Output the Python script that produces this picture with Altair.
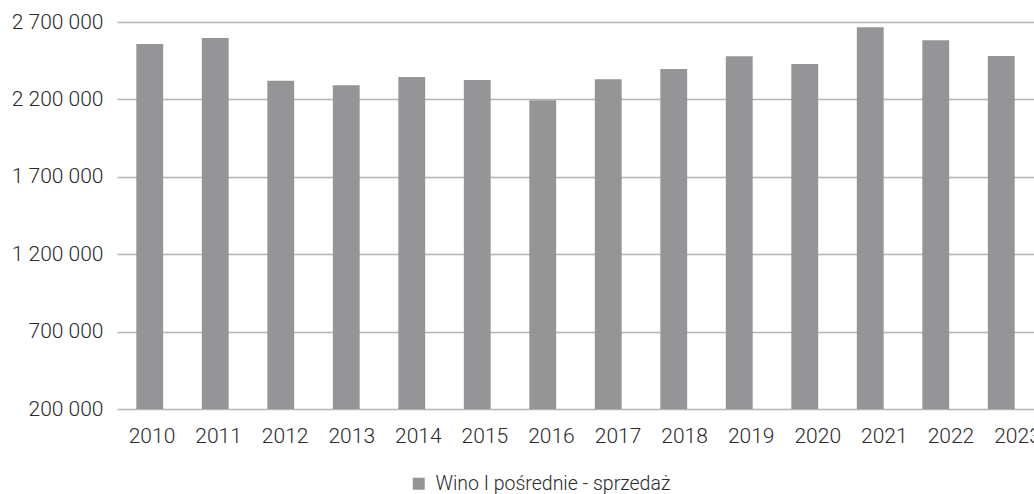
import altair as alt
import pandas as pd

years = ["2010", "2011", "2012", "2013", "2014", "2015", "2016",
         "2017", "2018", "2019", "2020", "2021", "2022", "2023"]
values = [2558000, 2597000, 2321000, 2291000, 2345000, 2325000, 2194000,
          2330000, 2396000, 2478000, 2429000, 2666000, 2582000, 2480000]
series_name = "Wino I pośrednie - sprzedaż"
y_ticks = [200000, 700000, 1200000, 1700000, 2200000, 2700000]

df = pd.DataFrame({"year": years, "value": values, "series": [series_name] * len(years)})

FONT = "Roboto"
TXT = "#2a2a2a"

base = alt.Chart(df)

bars = base.mark_bar(color="#959598", clip=True).encode(
    x=alt.X("year:N",
            scale=alt.Scale(paddingInner=0.59, paddingOuter=0.295),
            axis=None),
    y=alt.Y("value:Q",
            scale=alt.Scale(domain=[200000, 2700000], nice=False, zero=False),
            axis=alt.Axis(title=None, values=y_ticks, domain=False, ticks=False,
                          labelPadding=14, labelFontSize=21, labelFont=FONT,
                          labelFontWeight=300, labelColor=TXT,
                          gridColor="#b4b4b4", gridWidth=1.5, gridOpacity=1,
                          labelExpr="join(split(format(datum.value, ','), ','), ' ')")),
    color=alt.Color("series:N",
                    scale=alt.Scale(range=["#959598"]),
                    legend=alt.Legend(title=None, orient="none", legendX=292, legendY=452,
                                      symbolType="square", symbolSize=144,
                                      symbolStrokeWidth=0, labelFontSize=19.5,
                                      labelFont=FONT, labelFontWeight=300, labelLimit=0,
                                      labelColor=TXT, labelOffset=7, padding=0)),
)

# category axis (labels in the original are spaced slightly wider than the bars)
xaxis = base.mark_point(opacity=0, size=1).encode(
    x=alt.X("year:N",
            scale=alt.Scale(type="point", range=[34.5, 900], padding=0),
            axis=alt.Axis(title=None, labelAngle=0, domain=False, ticks=False,
                          labelPadding=16, labelFontSize=21, labelFont=FONT,
                          labelFontWeight=300, labelColor=TXT, grid=False,
                          labelOverlap=False, labelBound=False)),
    y=alt.value(0),
)

chart = alt.layer(bars, xaxis).resolve_scale(x="independent").properties(
    width=917,
    height=387,
    autosize=alt.AutoSizeParams(type="none"),
    padding={"left": 117, "top": 22, "right": 0, "bottom": 85},
).configure_view(stroke=None)

chart.save("out.html", embed_options={"renderer": "svg", "actions": False})
